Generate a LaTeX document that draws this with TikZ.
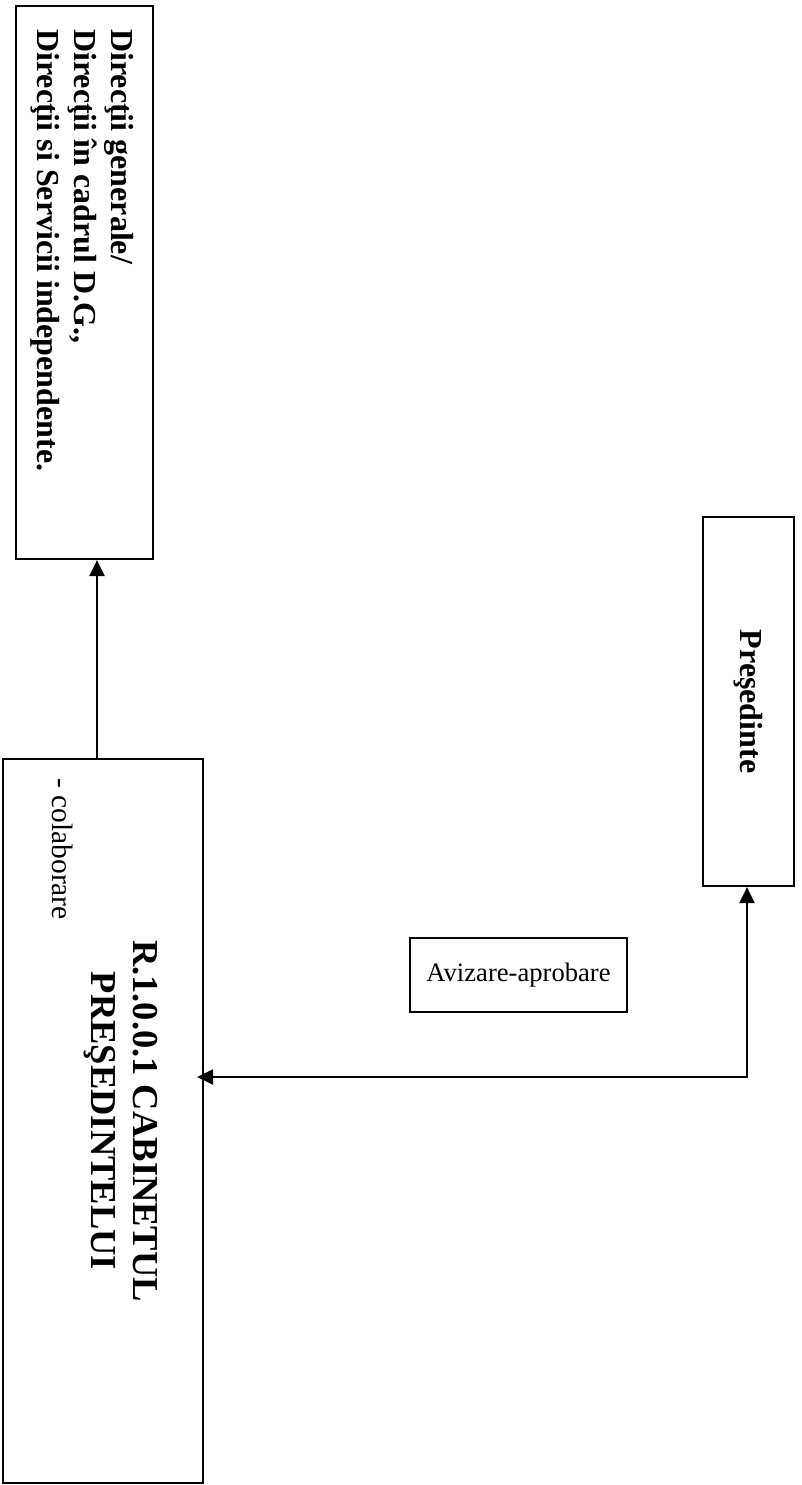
\documentclass[tikz,border=0pt]{standalone}
\usepackage{fontspec}
\setmainfont{Liberation Serif}
\usetikzlibrary{arrows.meta}
\begin{document}
\begin{tikzpicture}[x=1pt,y=-1pt,
  frame/.style={draw, line width=2.2pt, inner sep=0pt},
  tip/.tip={Triangle[length=16pt,width=15pt]},
  conn/.style={line width=2.2pt},
  vtext/.style={rotate=-90, inner sep=0pt},
  ]
\useasboundingbox (0,0) rectangle (802,1485);
\fill[white] (0,0) rectangle (802,1485);

% boxes
\node[frame, minimum width=137pt, minimum height=553pt] (dirbox) at (84.5,282.5) {};
\node[frame, minimum width=200pt, minimum height=724pt] (cab) at (103,1121) {};
\node[frame, minimum width=91pt, minimum height=369pt] (pres) at (748.5,701.5) {};
\node[frame, minimum width=217pt, minimum height=74pt,
      font=\fontsize{26.6}{30}\selectfont] (aviz) at (518.5,975) {Avizare-aprobare};

% vertical texts, reading downwards
\node[vtext, anchor=west, align=left, font=\bfseries\fontsize{32}{37}\selectfont]
  (dirtext) at (82.5,29) {Direcţii generale/\\Direcţii în cadrul D.G.,\\Direcţii si Servicii independente.};
\node[vtext, align=center, font=\bfseries\fontsize{36.5}{41.5}\selectfont]
  (cabtext) at (121,1121) {R.1.0.0.1 CABINETUL\\PREŞEDINTELUI};
\node[vtext, anchor=west, font=\fontsize{29.5}{33}\selectfont]
  (colab) at (63,778) {- colaborare};
\node[vtext, font=\bfseries\fontsize{32}{37}\selectfont]
  (prestext) at (748.5,701.5) {Preşedinte};

% connectors
\coordinate (up) at (97,0);
\draw[conn, -tip] (up |- cab.north) -- (up |- dirbox.south);
\coordinate (bend) at (747,1077);
\draw[conn, tip-tip] ([xshift=-7pt]cab.east |- bend) -- (bend) -- (bend |- pres.south);
\end{tikzpicture}
\end{document}
